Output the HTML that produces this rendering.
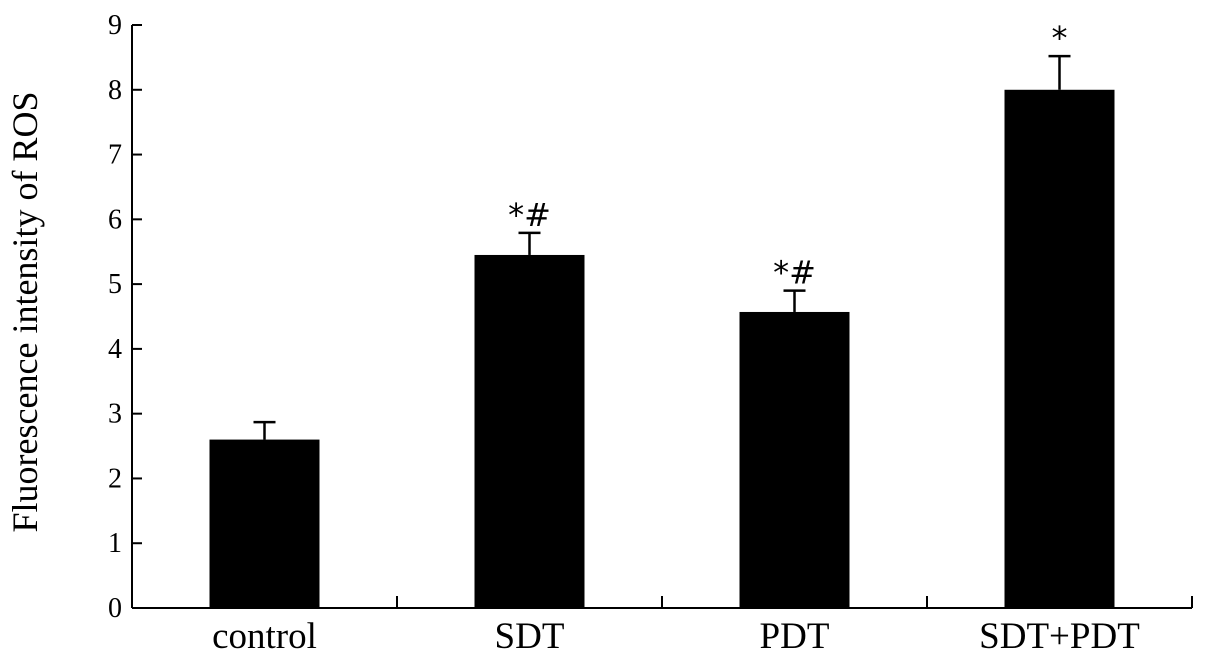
<!DOCTYPE html>
<html><head><meta charset="utf-8"><style>
html,body{margin:0;padding:0;background:#fff;}
svg{display:block;font-family:"Liberation Serif",serif;}
</style></head><body>
<svg id="chart" width="1205" height="664" viewBox="0 0 1205 664" xmlns="http://www.w3.org/2000/svg"></svg>
<script>
const categories = ["control", "SDT", "PDT", "SDT+PDT"];
const values = [2.6, 5.45, 4.57, 8.0];
const errors = [0.27, 0.34, 0.33, 0.52];
const annotations = ["", "*#", "*#", "*"];
const yTicks = [0,1,2,3,4,5,6,7,8,9];

const NS = "http://www.w3.org/2000/svg";
const svg = document.getElementById("chart");
const x0 = 132, x1 = 1192, yBase = 608, yTop = 25, yMax = 9;
const band = (x1 - x0) / categories.length;
const barW = 110;
function yScale(v){ return yBase - v * (yBase - yTop) / yMax; }
function xCenter(i){ return x0 + band * (i + 0.5); }
function mk(tag, attrs){ const e = document.createElementNS(NS, tag); for (const k in attrs) e.setAttribute(k, attrs[k]); svg.appendChild(e); return e; }

const yAxis = mk("line", {x1:x0, y1:yTop, x2:x0, y2:yBase, stroke:"#000", "stroke-width":2});


const xAxis = mk("line", {x1:x0, y1:yBase, x2:x1, y2:yBase, stroke:"#000", "stroke-width":2});



yTicks.forEach(t => {
  const y = yScale(t);
  const tk = mk("line", {x1:x0, y1:y, x2:x0+10, y2:y, stroke:"#000", "stroke-width":2});
  
  
  const lb = mk("text", {x:122, y:y+9, "text-anchor":"end", "font-size":28});
  lb.textContent = t;
  
  
});

for (let i = 1; i <= categories.length; i++) {
  const x = x0 + band * i;
  const tk = mk("line", {x1:x, y1:yBase, x2:x, y2:yBase-12, stroke:"#000", "stroke-width":2});
  
  
}

categories.forEach((c, i) => {
  const cx = xCenter(i);
  const top = yScale(values[i]);
  const bar = mk("rect", {x:cx-barW/2, y:top, width:barW, height:yBase-top, fill:"#000"});
  
  
  const ey = yScale(values[i] + errors[i]);
  const ev = mk("line", {x1:cx, y1:top, x2:cx, y2:ey, stroke:"#000", "stroke-width":2.5});
  
  
  const cap = mk("line", {x1:cx-11, y1:ey, x2:cx+11, y2:ey, stroke:"#000", "stroke-width":2.5});
  
  
  if (annotations[i]) {
    const an = mk("text", {x:cx, y:ey-7, "text-anchor":"middle", "font-size":32, "font-family":"DejaVu Sans, sans-serif"});
    an.textContent = annotations[i];
    
    
  }
  const lb = mk("text", {x:cx, y:648, "text-anchor":"middle", "font-size":37});
  lb.textContent = c;
  
  
});

const title = mk("text", {x:0, y:0, "text-anchor":"middle", "font-size":36, transform:"translate(37,312) rotate(-90)"});
title.textContent = "Fluorescence intensity of ROS";


</script>
</body></html>
